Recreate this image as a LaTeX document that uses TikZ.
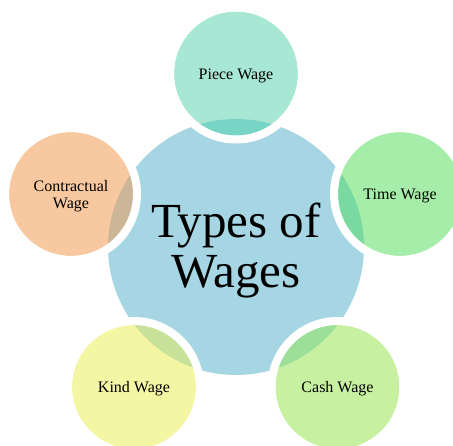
\documentclass[tikz,border=0pt]{standalone}
\usepackage{fontspec}
\setmainfont{Liberation Serif}
\begin{document}
\begin{tikzpicture}[x=1pt,y=-1pt]
% palette
\definecolor{hubfill}{HTML}{A6D5E3}
\definecolor{pieceC}{HTML}{A7E7D3}\definecolor{pieceO}{HTML}{77D5C5}
\definecolor{timeC}{HTML}{A6EDA9}\definecolor{timeO}{HTML}{79D9A0}
\definecolor{cashC}{HTML}{C7F1A1}\definecolor{cashO}{HTML}{9CDF98}
\definecolor{kindC}{HTML}{F4F6A4}\definecolor{kindO}{HTML}{C9E29A}
\definecolor{contrC}{HTML}{F8C9A0}\definecolor{contrO}{HTML}{CDB597}
\tikzset{
  satlabel/.style={font=\fontsize{16}{17}\selectfont, align=center, text=black, inner sep=0pt},
  hublabel/.style={font=\fontsize{49}{50}\selectfont, align=center, text=black, inner sep=0pt},
  ring/.style={draw=white, line width=8pt},
}
\useasboundingbox (0,0) rectangle (453,445);
% central circle
\coordinate (hub) at (236,247);
\fill[hubfill] (hub) circle[radius=128];
% satellite circles: fill, tinted overlap with the hub, white rim, label
\foreach \n/\x/\y/\col/\ov/\txt in {
    piece/236/73.5/pieceC/pieceO/{Piece Wage},
    time/400/194/timeC/timeO/{Time Wage},
    cash/337.5/387/cashC/cashO/{Cash Wage},
    kind/134/387/kindC/kindO/{Kind Wage},
    contr/71/194/contrC/contrO/{Contractual\\Wage}} {
  \coordinate (\n) at (\x,\y);
  \fill[\col] (\n) circle[radius=62];
  \begin{scope}
    \clip (hub) circle[radius=128];
    \fill[\ov] (\n) circle[radius=62];
  \end{scope}
  \draw[ring] (\n) circle[radius=66];
  \node[satlabel] (\n-label) at ([yshift=-2pt]\n) {\txt};
}
\node[hublabel] (hub-label) at (236,251) {Types of\\Wages};
\end{tikzpicture}
\end{document}
